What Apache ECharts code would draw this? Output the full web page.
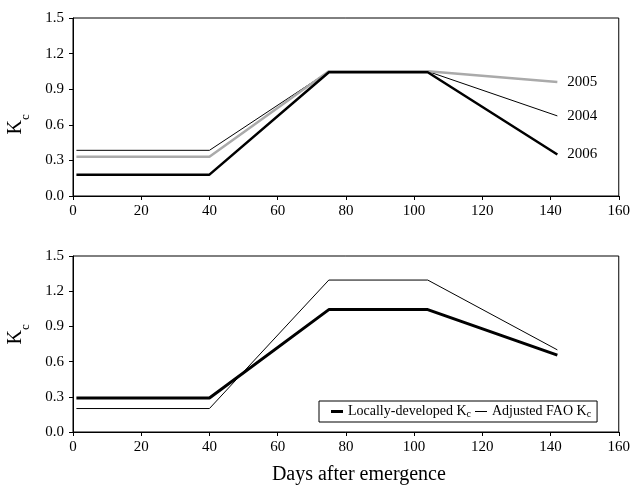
<!DOCTYPE html>
<html><head><meta charset="utf-8">
<script src="https://cdn.jsdelivr.net/npm/echarts@6/dist/echarts.min.js"></script>
<style>html,body{margin:0;padding:0;background:#fff}#c{width:633px;height:486px}</style>
</head><body><div id="c"></div>
<script>
// Days after emergence (breakpoints)
const days = [1, 40, 75, 104, 142];
// Top panel: Kc by year
const kc2004 = [0.385, 0.385, 1.05, 1.05, 0.675];
const kc2005 = [0.33, 0.33, 1.052, 1.052, 0.96];
const kc2006 = [0.18, 0.18, 1.043, 1.043, 0.35];
// Bottom panel
const kcLocal = [0.29, 0.29, 1.043, 1.043, 0.655];
const kcFAO = [0.20, 0.20, 1.295, 1.295, 0.70];
const xTicks = [0, 20, 40, 60, 80, 100, 120, 140, 160];
const yTicks = [0.0, 0.3, 0.6, 0.9, 1.2, 1.5];

const F = 'Liberation Serif';
const pair = (ys) => days.map((d, i) => [d, ys[i]]);

function xAx(gi, name) {
  const a = {
    type: 'value', gridIndex: gi, min: xTicks[0], max: xTicks[xTicks.length - 1], interval: xTicks[1] - xTicks[0],
    axisLine: {show: true, lineStyle: {color: '#000', width: 1}},
    axisTick: {show: true, length: 4, lineStyle: {color: '#000'}},
    axisLabel: {color: '#000', fontFamily: F, fontSize: 15, margin: 8},
    splitLine: {show: false}
  };
  if (name) {
    a.name = name;
    a.nameLocation = 'middle';
    a.nameGap = 33;
    a.nameTextStyle = {color: '#000', fontFamily: F, fontSize: 20, padding: [0, 0, 0, 26]};
  }
  return a;
}
function yAx(gi) {
  return {
    type: 'value', gridIndex: gi, min: yTicks[0], max: yTicks[yTicks.length - 1], interval: yTicks[1] - yTicks[0],
    axisLine: {show: true, lineStyle: {color: '#000', width: 1}},
    axisTick: {show: true, length: 4, lineStyle: {color: '#000'}},
    axisLabel: {color: '#000', fontFamily: F, fontSize: 15, margin: 9, formatter: v => v.toFixed(1)},
    splitLine: {show: false}
  };
}
function line(name, gi, ys, color, width, endLabel) {
  const s = {
    name, type: 'line', xAxisIndex: gi, yAxisIndex: gi, data: pair(ys),
    symbol: 'none', silent: true, animation: false,
    lineStyle: {color, width}, itemStyle: {color}
  };
  if (endLabel) {
    s.endLabel = {show: true, formatter: '{a}', color: '#000', fontFamily: F, fontSize: 15, distance: 10};
  }
  return s;
}
const kcRich = {
  k: {fontFamily: F, fontSize: 20, color: '#000', verticalAlign: 'top', lineHeight: 20},
  c: {fontFamily: F, fontSize: 13, color: '#000', verticalAlign: 'bottom'}
};
const chart = echarts.init(document.getElementById('c'), null, {renderer: 'canvas'});
chart.setOption({
  backgroundColor: '#fff',
  animation: false,
  grid: [
    {left: 73, right: 14, top: 18, bottom: 290, show: true, borderColor: '#000', borderWidth: 1, containLabel: false},
    {left: 73, right: 14, top: 256, bottom: 53, show: true, borderColor: '#000', borderWidth: 1, containLabel: false}
  ],
  xAxis: [xAx(0), xAx(1, 'Days after emergence')],
  yAxis: [yAx(0), yAx(1)],
  legend: {
    left: 319, top: 401, orient: 'horizontal',
    itemWidth: 12, itemHeight: 8, itemGap: 4,
    symbolKeepAspect: true,
    borderColor: '#000', borderWidth: 1, borderRadius: 0,
    padding: [3, 6, 3, 12],
    data: [
      {name: 'Locally-developed K', icon: 'path://M0,0H12V3H0Z'},
      {name: 'Adjusted FAO K', icon: 'path://M0,0H12V1H0Z'}
    ],
    formatter: n => '{t|' + n + '}{s|c}',
    textStyle: {
      color: '#000', fontFamily: F, fontSize: 14,
      rich: {
        t: {fontFamily: F, fontSize: 14, color: '#000', verticalAlign: 'top', lineHeight: 15},
        s: {fontFamily: F, fontSize: 10, color: '#000', verticalAlign: 'bottom'}
      }
    }
  },
  graphic: [
    {type: 'text', x: 18.6, y: 124.4, rotation: Math.PI / 2,
      style: {text: '{k|K}{c|c}', rich: kcRich, lineHeight: 26.6, align: 'center', verticalAlign: 'middle'}},
    {type: 'text', x: 18.6, y: 334.4, rotation: Math.PI / 2,
      style: {text: '{k|K}{c|c}', rich: kcRich, lineHeight: 26.6, align: 'center', verticalAlign: 'middle'}}
  ],
  series: [
    line('2004', 0, kc2004, '#000', 1, true),
    line('2005', 0, kc2005, '#aaaaaa', 2.5, true),
    line('2006', 0, kc2006, '#000', 2.5, true),
    line('Locally-developed K', 1, kcLocal, '#000', 3, false),
    line('Adjusted FAO K', 1, kcFAO, '#000', 1, false)
  ]
});
</script>
</body></html>
